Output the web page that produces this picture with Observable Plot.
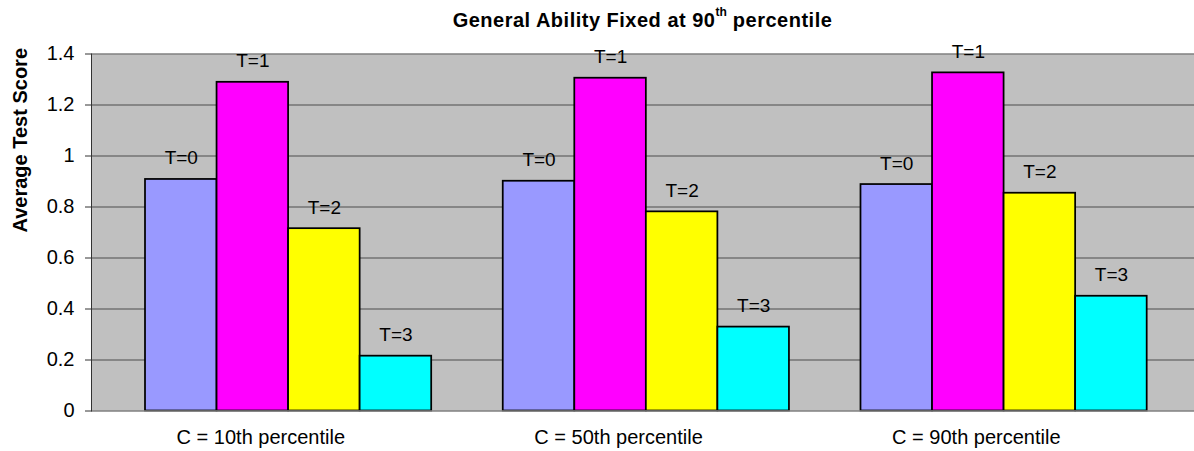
<!DOCTYPE html>
<html>
<head>
<meta charset="utf-8">
<script src="https://cdn.jsdelivr.net/npm/d3@7"></script>
<script src="https://cdn.jsdelivr.net/npm/@observablehq/plot@0.6"></script>
<style>
  html, body { margin: 0; padding: 0; background: #fff; }
  #wrap { position: relative; width: 1194px; height: 451px; font-family: "Liberation Sans", Arial, sans-serif; }
  #title { position: absolute; left: 91px; width: 1103px; top: 10px; text-align: center;
           font-size: 20px; line-height: 20px; font-weight: bold; letter-spacing: 0.5px; color: #000; }
  #title sup { font-size: 12px; position: relative; top: -11px; vertical-align: baseline; letter-spacing: 0; }
  #chart { position: absolute; left: 0; top: 0; }
</style>
</head>
<body>
<div id="wrap">
  <div id="chart"></div>
  <div id="title">General Ability Fixed at 90<sup>th</sup> percentile</div>
</div>
<script>
const groups = ["C = 10th percentile", "C = 50th percentile", "C = 90th percentile"];
const seriesNames = ["T=0", "T=1", "T=2", "T=3"];
const seriesColors = ["#9999FF", "#FF00FF", "#FFFF00", "#00FFFF"];
const t0Values = [0.908, 0.901, 0.888];
const t1Values = [1.289, 1.305, 1.326];
const t2Values = [0.715, 0.781, 0.854];
const t3Values = [0.215, 0.329, 0.450];
const yTicks = [0, 0.2, 0.4, 0.6, 0.8, 1, 1.2, 1.4];
const yTickLabels = ["0", "0.2", "0.4", "0.6", "0.8", "1", "1.2", "1.4"];
const yTitle = "Average Test Score";

const seriesValues = [t0Values, t1Values, t2Values, t3Values];
const key = (g, s) => g + "|" + s;

const data = [];
groups.forEach((g, gi) => {
  seriesNames.forEach((s, si) => {
    data.push({group: g, series: s, key: key(g, s), value: seriesValues[si][gi]});
  });
});

const xDomain = [];
groups.forEach((g, gi) => {
  seriesNames.forEach(s => xDomain.push(key(g, s)));
  if (gi < groups.length - 1) xDomain.push("gap" + gi);
});

const tickLabel = d => yTickLabels[yTicks.indexOf(d)];

const chart = Plot.plot({
  width: 1194,
  height: 451,
  marginLeft: 91,
  marginRight: 0,
  marginTop: 53.5,
  marginBottom: 40.5,
  style: {fontFamily: "'Liberation Sans', Arial, sans-serif", fontSize: "20px", color: "#000", background: "transparent"},
  x: {type: "band", domain: xDomain, paddingInner: 0, paddingOuter: 0.708, align: 0.533, round: false, axis: null},
  y: {domain: [0, 1.4], axis: null},
  color: {domain: seriesNames, range: seriesColors},
  marks: [
    Plot.frame({fill: "#C0C0C0", stroke: "none"}),
    Plot.ruleY(yTicks.filter(d => d > 0 && d < 1.4), {stroke: "#4d4d4d", strokeWidth: 1}),
    Plot.ruleY([1.4], {stroke: "#808080", strokeWidth: 1.5}),
    Plot.barY(data, {x: "key", y: "value", fill: "series", stroke: "#000", strokeWidth: 1.75}),
    Plot.ruleY([0], {stroke: "#808080", strokeWidth: 1.5}),
    Plot.frame({anchor: "left", stroke: "#333"}),
    Plot.axisY({ticks: yTicks, tickFormat: tickLabel, tickSize: 6, tickPadding: 11, stroke: "#333", fontSize: 20, label: null}),
    Plot.text(data, {x: "key", y: "value", text: "series", dy: -15, lineAnchor: "bottom", fontSize: 19}),
    Plot.text(groups, {x: g => key(g, "T=1"), text: d => d, frameAnchor: "bottom", dy: 33, dx: 8, lineAnchor: "bottom", fontSize: 20, letterSpacing: 0.5}),
    Plot.text([yTitle], {text: d => d, frameAnchor: "left", dx: -71, rotate: -90, fontWeight: "bold", fontSize: 20, lineAnchor: "middle"})
  ]
});
document.getElementById("chart").appendChild(chart);
</script>
</body>
</html>
